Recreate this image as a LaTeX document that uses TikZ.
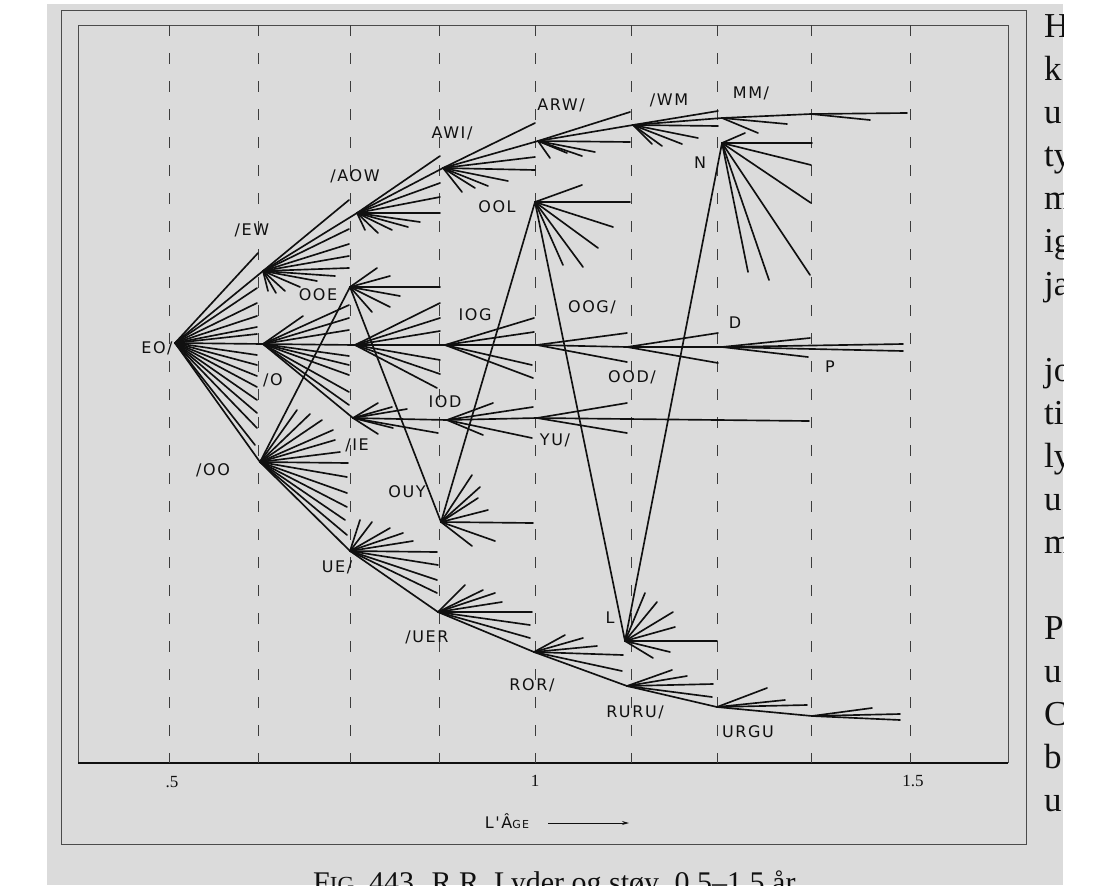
\documentclass[tikz,border=0pt]{standalone}
\usepackage{fontspec}
\setmainfont{Liberation Serif}
\newfontfamily\labfont[LetterSpace=10]{DejaVu Sans}
\usetikzlibrary{arrows.meta}
\definecolor{page}{RGB}{219,219,219}
\definecolor{ink}{RGB}{16,16,16}
\definecolor{framec}{RGB}{75,75,75}
\definecolor{gridc}{RGB}{60,60,60}
\newcommand\fanof[2]{\foreach \q in {#2}{\draw[ray] (#1) -- \q;}}
\begin{document}
\begin{tikzpicture}[x=1pt,y=-1pt,
  ray/.style={line width=1.65pt, draw=ink, line cap=round},
  lab/.style={font=\labfont\fontsize{16}{16}\selectfont, text=ink, inner sep=0pt},
  tick/.style={font=\fontsize{17}{17}\selectfont, text=ink, inner sep=0pt},
  gridline/.style={line width=0.9pt, draw=gridc, dash pattern=on 11pt off 17pt},
  side/.style={font=\fontsize{35}{35}\selectfont, text=ink, anchor=base west, inner sep=0pt},
]
\useasboundingbox (0,0) rectangle (1099,889);
\fill[white] (0,0) rectangle (1099,889);
\fill[page] (47,4) rectangle (1063,885);
% frames
\draw[framec, line width=0.8pt] (61,10) rectangle (1026,844);
\draw[framec, line width=0.7pt] (78,763) -- (78,25) -- (1008,25) -- (1008,763);
\draw[ink, line width=1.3pt] (78,763) -- (1008,763);
% grid
\foreach \gx in {169,258,350,439,535,631,717,811,910}{
  \draw[gridline] (\gx,25) -- (\gx,763);
}
% axis labels
\node[tick] (t05) at (172,782) {.5};
\node[tick] (t1) at (535,781) {1};
\node[tick] (t15) at (913,781) {1.5};
\node[font=\labfont\fontsize{16}{16}\selectfont, text=ink, inner sep=0pt] (age) at (507,821) {L'Â{\fontsize{11}{11}\selectfont GE}};
\coordinate (a1) at (548,823);
\coordinate (a2) at (629,823);
\draw[ink, line width=1pt, -{Stealth[length=7pt,width=4pt]}] (a1) -- (a2);

% fan centres
\coordinate (EO) at (175,343);
\coordinate (EW) at (263,271);
\coordinate (AOW) at (357,213);
\coordinate (AWI) at (443,168);
\coordinate (ARW) at (538,141);
\coordinate (WM) at (633,125);
\coordinate (MM) at (722,118);
\coordinate (M2) at (811,114);
\coordinate (N) at (722,143);
\coordinate (OOL) at (535,202);
\coordinate (OOE) at (350,287);
\coordinate (O) at (263,344);
\coordinate (MID) at (355,345);
\coordinate (IOG) at (445,345);
\coordinate (OOG) at (537,345);
\coordinate (OOD) at (627,347);
\coordinate (D) at (722,347);
\coordinate (IE) at (353,418);
\coordinate (IOD) at (447,420);
\coordinate (YU) at (537,418);
\coordinate (OO) at (260,462);
\coordinate (OUY) at (441,522);
\coordinate (UE) at (350,551);
\coordinate (VER) at (438,612);
\coordinate (ROR) at (534,652);
\coordinate (L) at (625,641);
\coordinate (RURU) at (627,686);
\coordinate (URGU) at (717,707);
\coordinate (U2) at (812,716);

% fans
\fanof{EO}{(258,253),(EW),(257,288),(257,303),(257,316),(257,327),(257,334),(O),(257,355),(257,365),(257,376),(257,387),(257,400),(257,413),(257,428),(255,445),(OO)}
\fanof{EW}{(349,200),(AOW),(349,229),(349,244),(349,256),(349,268),(335,276),(317,281),(300,287),(285,291),(276,293),(268,291)}
\fanof{AOW}{(440,156),(AWI),(440,183),(440,197),(440,213),(420,222),(408,227),(392,230),(378,233),(365,230)}
\fanof{AWI}{(535,123),(ARW),(535,157),(535,170),(508,181),(488,186),(475,188),(462,192)}
\fanof{ARW}{(630,112),(WM),(630,142),(595,152),(582,156),(567,153),(550,158)}
\fanof{WM}{(718,111),(MM),(718,126),(698,138),(682,144),(662,146),(652,144)}
\fanof{MM}{(M2),(787,124),(758,133)}
\fanof{M2}{(907,113),(870,120)}
\fanof{N}{(745,133),(812,143),(811,165),(811,203),(810,275),(769,280),(748,272),(L)}
\fanof{OOL}{(582,185),(630,202),(613,227),(598,248),(583,267),(563,265),(OUY),(L)}
\fanof{OOE}{(377,268),(390,276),(440,287),(400,296),(390,307),(372,312),(OUY)}
\fanof{O}{(303,316),(349,305),(349,318),(349,330),(MID),(349,356),(349,365),(349,375),(349,392),(349,405),(IE)}
\fanof{MID}{(440,303),(440,318),(440,331),(IOG),(440,360),(440,374),(437,388)}
\fanof{IOG}{(534,318),(534,332),(OOG),(532,365),(533,378)}
\fanof{OOG}{(627,333),(OOD),(627,362)}
\fanof{OOD}{(718,333),(D),(718,363)}
\fanof{D}{(810,338),(808,357),(903,344),(903,351)}
\fanof{IE}{(378,403),(392,407),(407,409),(IOD),(438,433),(393,428),(378,434)}
\fanof{IOD}{(493,403),(533,407),(YU),(532,438),(483,435)}
\fanof{YU}{(627,403),(809,421),(627,433)}
\fanof{OO}{(OOE),(297,410),(310,414),(322,420),(333,430),(335,440),(340,452),(348,463),(347,477),(347,493),(347,507),(345,520),(347,535),(UE)}
\fanof{OUY}{(472,475),(480,487),(478,498),(488,510),(533,523),(495,541),(472,546)}
\fanof{UE}{(360,520),(372,522),(390,528),(403,533),(413,541),(437,552),(438,565),(437,580),(437,593),(VER)}
\fanof{VER}{(465,585),(483,590),(495,593),(502,602),(532,612),(530,625),(530,638),(ROR)}
\fanof{ROR}{(565,635),(583,638),(597,646),(623,655),(622,671),(RURU)}
\fanof{L}{(645,593),(657,602),(673,612),(675,627),(717,641),(670,652),(653,658)}
\fanof{RURU}{(672,670),(687,676),(713,684),(712,697),(URGU)}
\fanof{URGU}{(767,688),(785,700),(807,705),(U2)}
\fanof{U2}{(872,708),(900,714),(900,720)}

% labels
\node[lab] (lEO) at (157,348) {EO/};
\node[lab] (lEW) at (252,230) {/EW};
\node[lab] (lAOW) at (355,176) {/AOW};
\node[lab] (lAWI) at (452,133) {AWI/};
\node[lab] (lARW) at (561,105) {ARW/};
\node[lab] (lWM) at (669,100) {/WM};
\node[lab] (lMM) at (751,93) {MM/};
\node[lab] (lN) at (700,163) {N};
\node[lab] (lOOL) at (497,207) {OOL};
\node[lab] (lOOE) at (318,295) {OOE};
\node[lab] (lIOG) at (475,315) {IOG};
\node[lab] (lOOG) at (592,307) {OOG/};
\node[lab] (lD) at (735,323) {D};
\node[lab] (lO) at (273,380) {/O};
\node[lab] (lOOD) at (632,377) {OOD/};
\node[lab] (lP) at (830,367) {P};
\node[lab] (lIOD) at (445,402) {IOD};
\node[lab] (lYU) at (555,440) {YU/};
\node[lab] (lIE) at (357,445) {/IE};
\node[lab] (lOO) at (213,470) {/OO};
\node[lab] (lOUY) at (407,492) {OUY};
\node[lab] (lUE) at (337,567) {UE/};
\node[lab] (lUER) at (427,637) {/UER};
\node[lab] (lROR) at (532,685) {ROR/};
\node[lab] (lL) at (610,618) {L};
\node[lab] (lRURU) at (635,712) {RURU/};
\node[lab] (lURGU) at (748,732) {URGU};

% cut-off page text
\begin{scope}
\clip (47,4) rectangle (1063,885);
\node[side] (s1) at (1044,37) {H};
\node[side] (s2) at (1044,80) {k};
\node[side] (s3) at (1044,123) {u};
\node[side] (s4) at (1044,166) {ty};
\node[side] (s5) at (1044,209) {m};
\node[side] (s6) at (1044,252) {ig};
\node[side] (s7) at (1044,295) {ja};
\node[side] (s8) at (1044,381) {jo};
\node[side] (s9) at (1044,424) {ti};
\node[side] (s10) at (1044,467) {ly};
\node[side] (s11) at (1044,510) {u};
\node[side] (s12) at (1044,553) {m};
\node[side] (s13) at (1044,639) {P};
\node[side] (s14) at (1044,682) {u};
\node[side] (s15) at (1044,725) {C};
\node[side] (s16) at (1044,768) {b};
\node[side] (s17) at (1044,811) {u};
\node[font=\fontsize{30}{30}\selectfont, text=ink, anchor=base west, inner sep=0pt] (cap) at (313,892) {F{\fontsize{23}{23}\selectfont IG}. 443. R.R. Lyder og støy. 0,5–1,5 år};
\end{scope}
\end{tikzpicture}
\end{document}
